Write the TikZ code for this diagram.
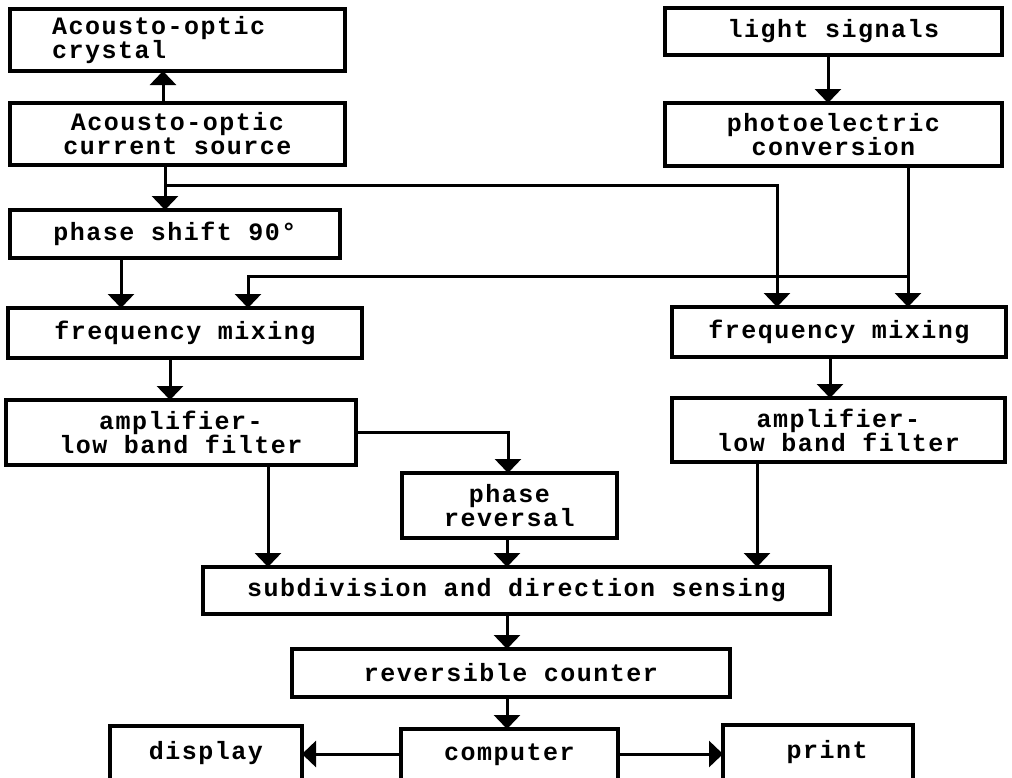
\documentclass[tikz,border=0pt]{standalone}
\usepackage{fontspec}
\newfontfamily\dfont{Liberation Mono}[LetterSpace=6]
\usetikzlibrary{arrows.meta}
\begin{document}
\begin{tikzpicture}[x=1pt,y=-1pt,
  box/.style={draw, line width=3.2pt, inner sep=0pt, outer sep=0pt, align=center,
    font=\dfont\bfseries\fontsize{25}{24}\selectfont},
  arr/.style={line width=3pt, -{Triangle[width=26pt,length=14pt]}}]
\useasboundingbox (0,0) rectangle (1012,777);
% boxes
\node[box, minimum width=335pt, minimum height=62pt, text width=251pt, align=left] (crystal) at (177.5,40) {Acousto-optic\\crystal};
\node[box, minimum width=335pt, minimum height=62pt] (source) at (177.5,134) {Acousto-optic\\current source};
\node[box, minimum width=330pt, minimum height=48pt] (phase) at (175,234) {phase shift 90°};
\node[box, minimum width=354pt, minimum height=50pt] (lfm) at (185,333) {frequency mixing};
\node[box, minimum width=350pt, minimum height=65pt] (lamp) at (181,432.5) {amplifier-\\low band filter};
\node[box, minimum width=215pt, minimum height=65pt] (prev) at (509.5,505.5) {phase\\reversal};
\node[box, minimum width=337pt, minimum height=47pt] (light) at (833.5,31.5) {light signals};
\node[box, minimum width=337pt, minimum height=63pt] (photo) at (833.5,134.5) {photoelectric\\conversion};
\node[box, minimum width=334pt, minimum height=50pt] (rfm) at (839,332) {frequency mixing};
\node[box, minimum width=333pt, minimum height=64pt] (ramp) at (838.5,430) {amplifier-\\low band filter};
\node[box, minimum width=627pt, minimum height=47pt] (subd) at (516.5,590.5) {subdivision and direction sensing};
\node[box, minimum width=438pt, minimum height=48pt] (counter) at (511,673) {reversible counter};
\node[box, minimum width=192pt, minimum height=54pt] (display) at (206,753) {display};
\node[box, minimum width=217pt, minimum height=51pt] (computer) at (509.5,754.5) {computer};
\node[box, minimum width=190pt, minimum height=55pt, text width=170pt] (print) at (818,752.5) {\hspace*{18pt}print};
% helper coordinates
\coordinate (c163) at (163,0);
\coordinate (c121) at (121,0);
\coordinate (c170) at (170,0);
\coordinate (c268) at (268,0);
\coordinate (c507) at (507,0);
\coordinate (c757) at (757,0);
\coordinate (c828) at (828,0);
\coordinate (c830) at (830,0);
\coordinate (j1) at (165,185);
\coordinate (k1) at (777,185);
\coordinate (j2) at (908,276);
\coordinate (k2) at (248,276);
\coordinate (j3) at (508,432);
\coordinate (r754) at (0,754);
% connectors
\draw[arr] (source.north -| c163) -- (crystal.south -| c163);
\draw[arr] (source.south -| j1) -- (phase.north -| j1);
\draw[arr] (j1) -- (k1) -- (rfm.north -| k1);
\draw[arr] (light.south -| c828) -- (photo.north -| c828);
\draw[arr] (photo.south -| j2) -- (rfm.north -| j2);
\draw[arr] (j2) -- (k2) -- (lfm.north -| k2);
\draw[arr] (phase.south -| c121) -- (lfm.north -| c121);
\draw[arr] (lfm.south -| c170) -- (lamp.north -| c170);
\draw[arr] (rfm.south -| c830) -- (ramp.north -| c830);
\draw[arr] (lamp.east |- j3) -- (j3) -- (prev.north -| j3);
\draw[arr] (lamp.south -| c268) -- (subd.north -| c268);
\draw[arr] (prev.south -| c507) -- (subd.north -| c507);
\draw[arr] (ramp.south -| c757) -- (subd.north -| c757);
\draw[arr] (subd.south -| c507) -- (counter.north -| c507);
\draw[arr] (counter.south -| c507) -- (computer.north -| c507);
\draw[arr] (computer.west |- r754) -- (display.east |- r754);
\draw[arr] (computer.east |- r754) -- (print.west |- r754);
\end{tikzpicture}
\end{document}
